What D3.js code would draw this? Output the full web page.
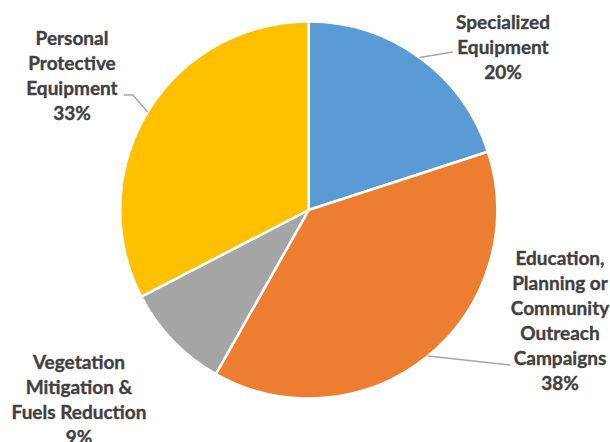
<!DOCTYPE html>
<html lang="en">
<head>
<meta charset="UTF-8">
<title>Pie</title>
<script src="https://d3js.org/d3.v7.min.js"></script>
<style>
  body { margin: 0; background: #fff; }
  text { font-family: "Lato", "Open Sans", sans-serif; font-weight: bold; fill: #404040;
         stroke: #404040; stroke-width: 0.35px; }
</style>
</head>
<body>
<script>
const categories = ["Specialized Equipment", "Education, Planning or Community Outreach Campaigns",
                    "Vegetation Mitigation & Fuels Reduction", "Personal Protective Equipment"];
const values = [20.0, 38.2, 9.2, 32.6];
const labelLines = [
  ["Specialized", "Equipment"],
  ["Education,", "Planning or", "Community", "Outreach", "Campaigns"],
  ["Vegetation", "Mitigation &", "Fuels Reduction"],
  ["Personal", "Protective", "Equipment"]
];
const colors = ["#5B9BD5", "#ED7D31", "#A5A5A5", "#FFC000"];

const w = 610, h = 442;
const cx = 308.7, cy = 210, r = 188.5;

// label block centre x, first line centre y, leader points after the edge point
const layout = [
  { x: 503, y: 22, leader: [[453, 52]] },
  { x: 560, y: 258, leader: [[510, 365]] },
  { x: 79, y: 362, leader: null },
  { x: 72, y: 38, leader: [[133, 95], [124, 95]] }
];
const lineH = 25;

const svg = d3.select("body").append("svg")
  .attr("width", w).attr("height", h);

const pie = d3.pie().sort(null).value(d => d);
const arcs = pie(values);
const arc = d3.arc().innerRadius(0).outerRadius(r);

const g = svg.append("g").attr("transform", `translate(${cx},${cy})`);

g.selectAll("path")
  .data(arcs)
  .enter()
  .append("path")
  .attr("d", arc)
  .attr("fill", (d, i) => colors[i])
  .attr("stroke", "#fff")
  .attr("stroke-width", 2.5)
  .attr("stroke-linejoin", "round");

const total = d3.sum(values);

// leader lines
arcs.forEach((d, i) => {
  const L = layout[i];
  if (!L.leader) return;
  const a = (d.startAngle + d.endAngle) / 2;
  const pts = [[cx + r * Math.sin(a), cy - r * Math.cos(a)]].concat(L.leader);
  svg.append("path")
    .attr("d", d3.line()(pts))
    .attr("fill", "none")
    .attr("stroke", "#A6A6A6")
    .attr("stroke-width", 1.5);
});

// labels
arcs.forEach((d, i) => {
  const L = layout[i];
  const lines = labelLines[i].concat([Math.round(d.value / total * 100) + "%"]);
  const t = svg.append("text")
    .attr("text-anchor", "middle")
    .attr("font-size", 19);
  lines.forEach((s, k) => {
    t.append("tspan")
      .attr("x", L.x)
      .attr("y", L.y + k * lineH)
      .attr("dy", "0.35em")
      .text(s);
  });
});
</script>
</body>
</html>
